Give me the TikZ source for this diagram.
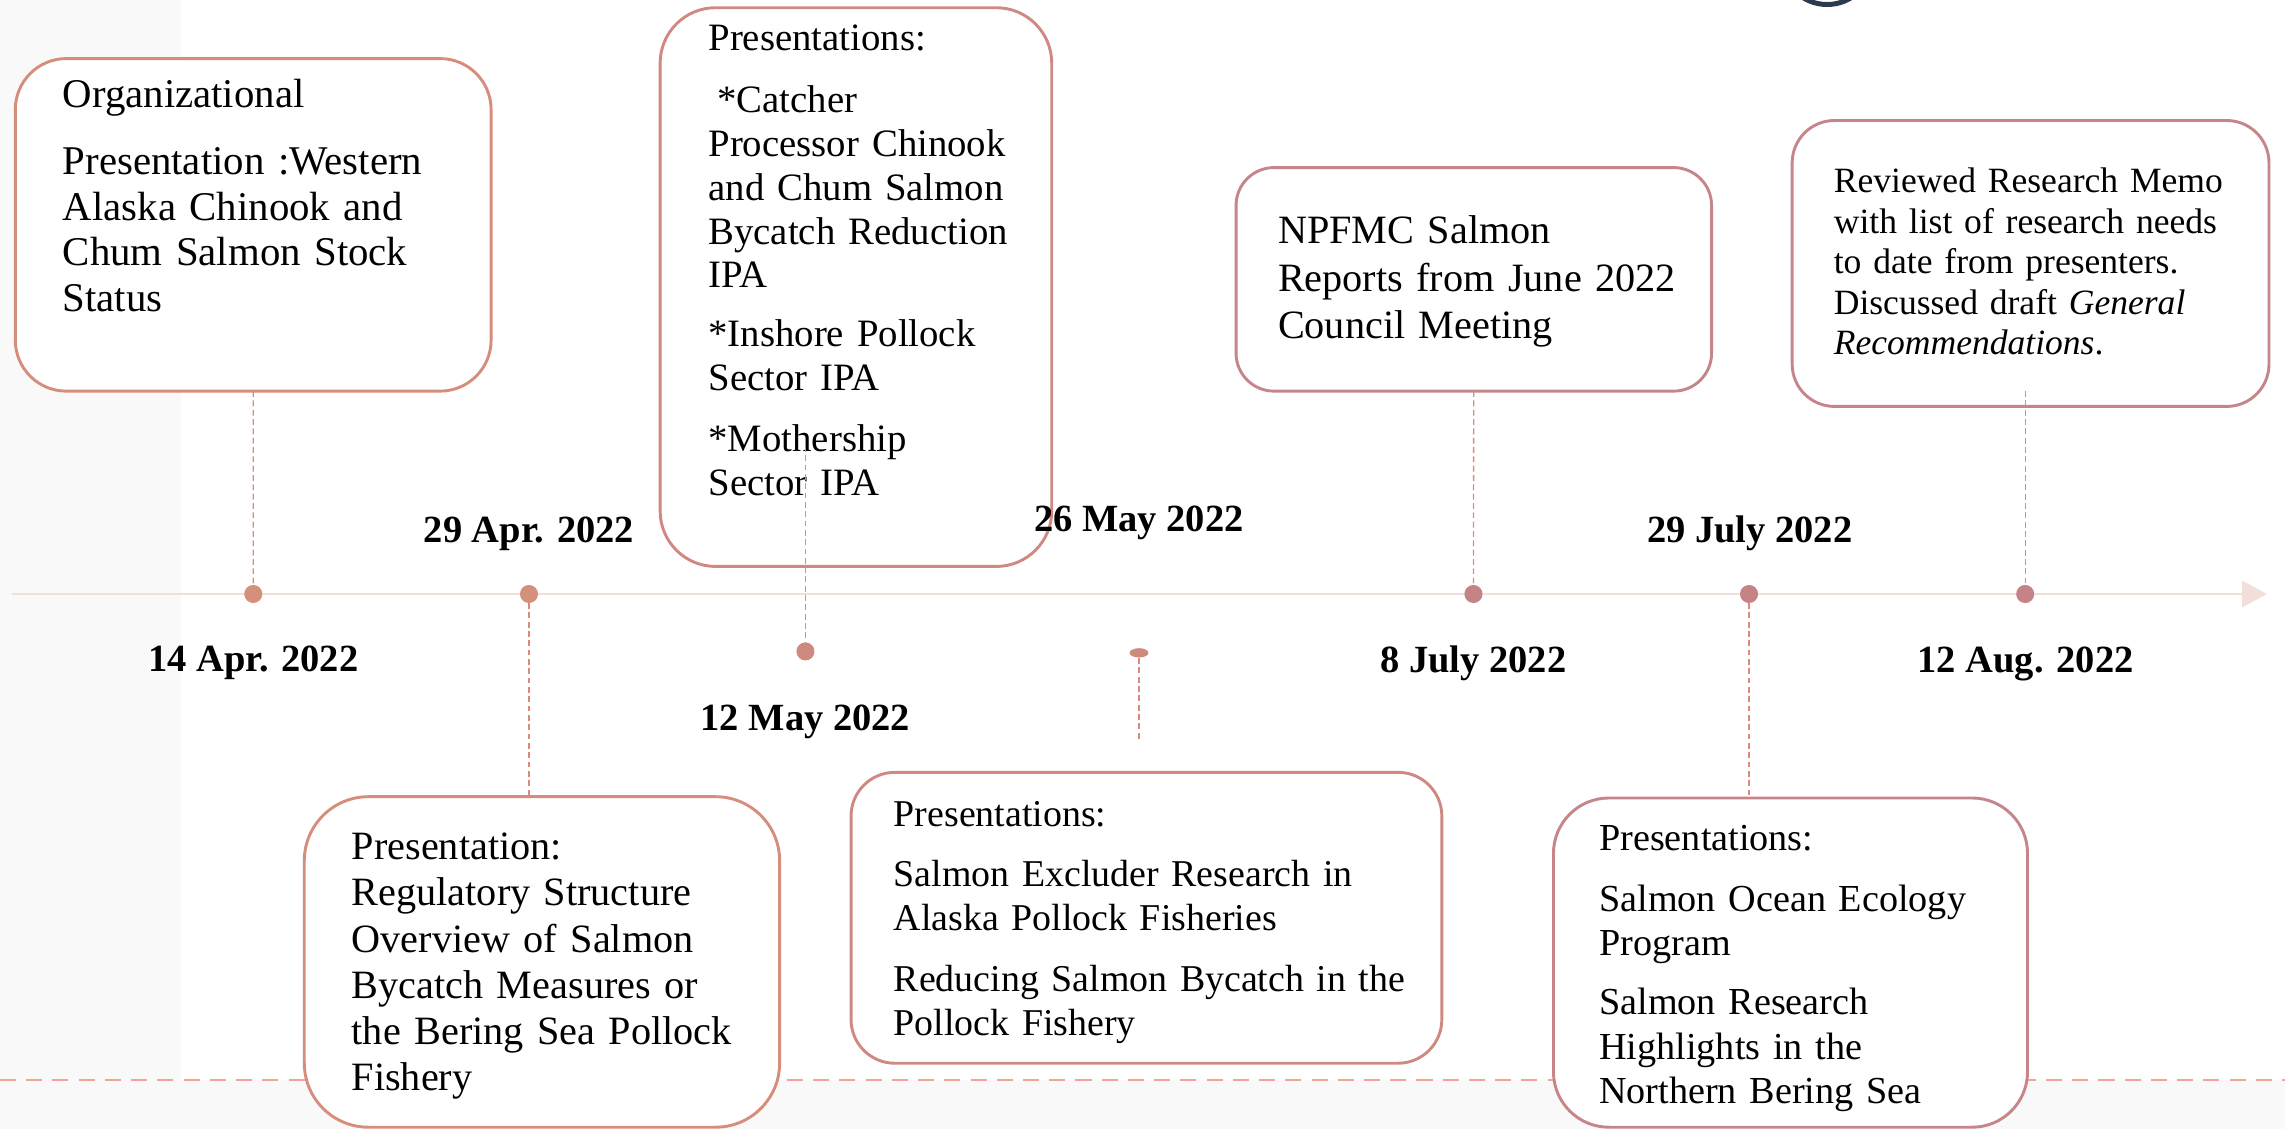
\documentclass[tikz,border=0pt]{standalone}
\usepackage{fontspec}
\setmainfont{Liberation Serif}
\usetikzlibrary{positioning,arrows.meta,shapes.geometric}

\definecolor{bggray}{HTML}{F9F9F9}
\definecolor{axiscol}{HTML}{F3DFDA}
\definecolor{stemcol}{HTML}{DD8A7C}
\definecolor{footdash}{HTML}{F4A396}
\definecolor{boxwarm}{HTML}{D68D7B}
\definecolor{boxmid}{HTML}{CF8981}
\definecolor{boxcool}{HTML}{C68588}
\definecolor{dotwarm}{HTML}{D4907A}
\definecolor{dotmid}{HTML}{CE8A7E}
\definecolor{dotcool}{HTML}{C58385}
\definecolor{logocol}{HTML}{2B3A4E}

\tikzset{
  evbox/.style={draw, line width=1pt, fill=white, inner sep=0pt, outer sep=0pt},
  evtext/.style={anchor=base west, inner sep=0pt, align=left, text width=210pt},
  evdot/.style={circle, inner sep=0pt, outer sep=0pt, minimum size=6.2pt},
  datelab/.style={anchor=base, inner sep=0pt, font=\bfseries\fontsize{13.2}{15}\selectfont},
  stem/.style={draw=stemcol, line width=0.45pt, dash pattern=on 2pt off 1.2pt},
}

\begin{document}
\begin{tikzpicture}[x=0.5pt,y=-0.5pt]
    \useasboundingbox (0,0) rectangle (1568,775);

    % background
    \fill[bggray] (0,0) rectangle (124,741);
    \fill[bggray] (0,741) rectangle (1568,775);
    \draw[footdash, line width=0.75pt, dash pattern=on 5.5pt off 3.5pt] (0,741) -- (1568,741);
    \draw[logocol, line width=1.7pt] (1253.8,-28.4) circle[radius=15.75pt];

    % time axis
    \coordinate (axs) at (7.9,407.6);
    \coordinate (axe) at (1555.6,407.6);
    \draw[axiscol, line width=0.9pt, -{Triangle[length=8.5pt,width=9pt]}] (axs) -- (axe);

    % event boxes
    \node[evbox, draw=boxwarm, rounded corners=17.5pt, minimum width=163.25pt, minimum height=114.1pt] (box1) at (173.75,154.3) {};
    \node[evbox, draw=boxwarm, rounded corners=22pt, minimum width=163.1pt, minimum height=113.4pt] (box2) at (371.9,660.1) {};
    \node[evbox, draw=boxmid, rounded corners=19pt, minimum width=134.35pt, minimum height=191.7pt] (box3) at (587.35,197) {};
    \node[evbox, draw=boxmid, rounded corners=15pt, minimum width=202.7pt, minimum height=99.8pt] (box4) at (786.7,629.8) {};
    \node[evbox, draw=boxcool, rounded corners=13pt, minimum width=163.15pt, minimum height=76.7pt] (box5) at (1011.35,191.7) {};
    \node[evbox, draw=boxcool, rounded corners=19pt, minimum width=162.65pt, minimum height=112.95pt] (box6) at (1228.65,660.55) {};
    \node[evbox, draw=boxcool, rounded corners=14.5pt, minimum width=163.6pt, minimum height=98.1pt] (box7) at (1393.4,180.8) {};

    % box texts
    \node[evtext, font=\fontsize{14}{15.75}\selectfont] (txt1) at (42.7,73.5)
        {Organizational\\[7.25pt]Presentation :Western\\Alaska Chinook and\\Chum Salmon Stock\\Status};
    \node[evtext, font=\fontsize{13.8}{15.85}\selectfont] (txt2) at (241,590)
        {Presentation:\\Regulatory Structure\\Overview of Salmon\\Bycatch Measures or\\the Bering Sea Pollock\\Fishery};
    \node[evtext, font=\fontsize{13.3}{15}\selectfont] (txt3) at (485.8,34.5)
        {Presentations:\\[6.5pt]\hspace*{3pt}*Catcher\\Processor Chinook\\and Chum Salmon\\Bycatch Reduction\\IPA\\[5.25pt]*Inshore Pollock\\Sector IPA\\[6pt]*Mothership\\Sector IPA};
    \node[evtext, font=\fontsize{13}{14.9}\selectfont] (txt4) at (612.9,567)
        {Presentations:\\[5.8pt]Salmon Excluder Research in\\Alaska Pollock Fisheries\\[6.3pt]Reducing Salmon Bycatch in the\\Pollock Fishery};
    \node[evtext, font=\fontsize{13.8}{16.2}\selectfont] (txt5) at (876.6,167.4)
        {NPFMC Salmon\\Reports from June 2022\\Council Meeting};
    \node[evtext, font=\fontsize{13.1}{15.2}\selectfont] (txt6) at (1097,583.5)
        {Presentations:\\[5.8pt]Salmon Ocean Ecology\\Program\\[5pt]Salmon Research\\Highlights in the\\Northern Bering Sea};
    \node[evtext, font=\fontsize{12.2}{13.95}\selectfont] (txt7) at (1258,132)
        {Reviewed Research Memo\\with list of research needs\\to date from presenters.\\Discussed draft \textit{General}\\\textit{Recommendations}.};

    % dots
    \node[evdot, fill=dotwarm] (d1) at (173.8,407.6) {};
    \node[evdot, fill=dotwarm] (d2) at (363,407.6) {};
    \node[evdot, fill=dotmid] (d3) at (552.7,447) {};
    \node[ellipse, fill=dotmid, inner sep=0pt, minimum width=6.5pt, minimum height=3.2pt] (d4) at (781.6,448) {};
    \node[evdot, fill=dotcool] (d5) at (1011.1,407.6) {};
    \node[evdot, fill=dotcool] (d6) at (1200.2,407.6) {};
    \node[evdot, fill=dotcool] (d7) at (1389.7,407.6) {};

    % stems
    \coordinate (c3) at (552.7,306);
    \coordinate (c4) at (781.6,508);
    \coordinate (c7) at (1389.7,268.4);
    \draw[stem] (box1) -- (d1);
    \draw[stem] (d2) -- (d2 |- box2.north);
    \draw[stem] (c3) -- (d3);
    \draw[stem] (d4) -- (c4);
    \draw[stem] (box5) -- (d5);
    \draw[stem] (d6) -- (d6 |- box6.north);
    \draw[stem] (c7) -- (d7);

    % dates
    \node[datelab] (l1) at (173.8,461) {14 Apr. 2022};
    \node[datelab] (l2) at (363,372.2) {29 Apr. 2022};
    \node[datelab] (l3) at (552.7,501.2) {12 May 2022};
    \node[datelab] (l4) at (781.5,364.4) {26 May 2022};
    \node[datelab] (l5) at (1011,461.5) {8 July 2022};
    \node[datelab] (l6) at (1200.7,372.2) {29 July 2022};
    \node[datelab] (l7) at (1390,461.5) {12 Aug. 2022};

\end{tikzpicture}
\end{document}
